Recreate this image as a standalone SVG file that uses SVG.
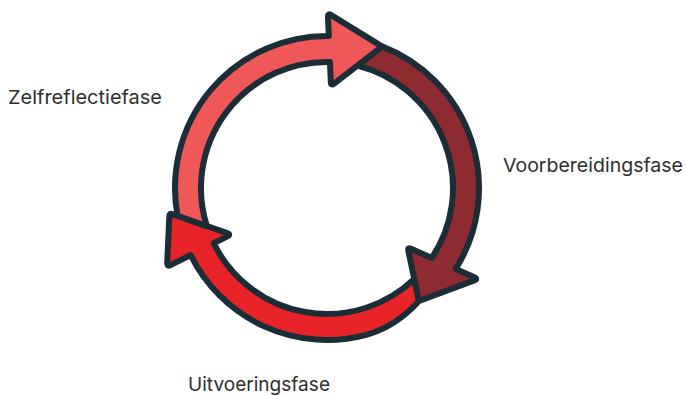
<svg xmlns="http://www.w3.org/2000/svg" width="686" height="395" viewBox="0 0 686 395">
  <style>
    .arrow { stroke: #1B2D36; stroke-width: 6; stroke-linejoin: round; }
    .pink { fill: #EF5759; }
    .dark { fill: #8E2B31; }
    .red { fill: #E92428; }
    .label { font-family: Inter, "Liberation Sans", Arial, sans-serif; font-size: 19px; fill: #2E2E2E; }
  </style>
  <rect width="686" height="395" fill="#FFFFFF"/>
  <g id="connectors">
    <g id="arrow-uitvoering">
      <path class="arrow red" d="M 419 301 Q 395.3 327 366.3 334.8 A 152 152 0 0 1 190.58 255.03 L 170.57 265.19 Q 167 267 167.18 263.0 L 169.36 216.0 Q 169.5 213 172.33 213.99 L 227.22 233.18 Q 231 234.5 227.43 236.31 L 213.76 243.25 A 126 126 0 0 0 414.29 278.87 Z"/>
    </g>
    <g id="arrow-voorbereiding">
      <path class="arrow dark" d="M 382.17 46.37 A 152 152 0 0 1 455.7 268.88 L 474.36 277.35 Q 478 279 474.25 280.4 L 421.81 299.95 Q 419 301 418.38 298.07 L 408.33 250.91 Q 407.5 247 411.14 248.65 L 431.76 258.01 A 126 126 0 0 0 357.23 65.68 Z"/>
    </g>
    <g id="arrow-zelfreflectie">
      <path class="arrow pink" d="M 177.57 215.82 A 152 152 0 0 1 328.8 36.0 L 327.97 17.0 Q 327.8 13 331.2 15.1 L 379.45 44.92 Q 382 46.5 379.63 48.34 L 334.16 83.55 Q 331 86 330.82 82.0 L 329.95 62.0 A 126 126 0 0 0 206.89 226.07 Z"/>
    </g>
  </g>
  <g id="node-zelfreflectiefase">
    <text class="label" x="8" y="104" textLength="154" lengthAdjust="spacingAndGlyphs">Zelfreflectiefase</text>
  </g>
  <g id="node-voorbereidingsfase">
    <text class="label" x="503" y="172" textLength="180" lengthAdjust="spacingAndGlyphs">Voorbereidingsfase</text>
  </g>
  <g id="node-uitvoeringsfase">
    <text class="label" x="188" y="391" textLength="142" lengthAdjust="spacingAndGlyphs">Uitvoeringsfase</text>
  </g>
</svg>
